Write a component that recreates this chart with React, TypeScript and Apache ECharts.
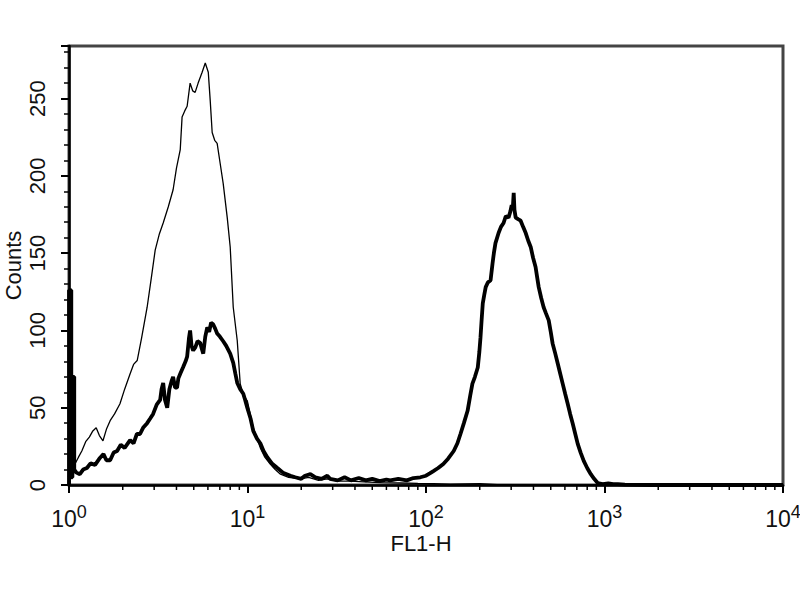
import React, { useEffect, useRef } from "react";
import * as echarts from "echarts";

// Control (thin) histogram: FL1-H value, counts
const thinX = [1, 1.04, 1.08, 1.13, 1.18, 1.24, 1.3, 1.36, 1.42, 1.48, 1.55, 1.62, 1.7, 1.8, 1.93, 2.05, 2.2, 2.3, 2.41, 2.55, 2.74, 2.9, 3.04, 3.2, 3.37, 3.6, 3.83, 4.0, 4.2, 4.3, 4.45, 4.59, 4.77, 4.93, 5.09, 5.29, 5.57, 5.8, 6.03, 6.18, 6.34, 6.55, 6.76, 7.03, 7.31, 7.7, 8.0, 8.32, 8.76, 9.1, 9.5, 9.97, 10.77, 11.8, 12.5, 13.4, 14.3, 15.3, 17, 19.8, 22, 25, 28, 32, 37.7, 45, 55, 71.9, 90, 110, 137, 200, 250, 400, 10000];
const thinY = [9, 12, 13.6, 18, 22, 28, 31, 35, 37, 32, 28.6, 36, 41.6, 46, 52.6, 62, 72, 78, 80.5, 95, 115, 135, 152, 162, 169.5, 180, 191, 205, 217, 238, 242, 245, 260, 255, 254, 260, 267, 273, 267, 249, 228, 223, 221, 208, 195, 173, 154, 115, 93.5, 65.6, 58, 54.5, 37, 24, 18, 13.6, 10, 7, 5, 4, 5, 3, 4, 2.5, 2.5, 2, 1.5, 1.3, 1, 0.8, 0.5, 0.8, 0.3, 0, 0];

// Stained (thick) histogram
const thickX = [1, 1, 1.03, 1.03, 1.045, 1.045, 1.07, 1.07, 1.1, 1.15, 1.2, 1.26, 1.32, 1.4, 1.49, 1.56, 1.62, 1.7, 1.78, 1.86, 1.95, 2.05, 2.2, 2.3, 2.4, 2.5, 2.6, 2.74, 2.85, 2.96, 3.1, 3.24, 3.3, 3.37, 3.45, 3.55, 3.65, 3.75, 3.83, 3.93, 4.03, 4.1, 4.2, 4.35, 4.5, 4.59, 4.7, 4.77, 4.86, 4.96, 5.1, 5.25, 5.43, 5.55, 5.65, 5.8, 5.95, 6.1, 6.25, 6.42, 6.6, 6.76, 7.0, 7.31, 7.6, 8.0, 8.32, 8.55, 8.76, 9.1, 9.47, 9.7, 9.97, 10.4, 10.77, 11.3, 11.8, 12.3, 12.9, 13.7, 14.7, 15.8, 17.4, 18.5, 20, 21, 22.5, 24, 26, 28, 29, 32, 35, 38, 42, 46, 50, 55, 60, 63, 70, 78, 85, 93, 100, 105, 110, 117, 125, 133, 143, 150, 156, 163, 171, 177, 182, 188, 195, 199, 202, 205, 208, 212, 216, 222, 230, 236, 240, 245, 255, 263, 272, 280, 290, 297, 302, 306, 310, 313, 318, 328, 339, 350, 362, 374, 386, 398, 411, 420, 428, 442, 456, 470, 487, 500, 512, 530, 547, 565, 583, 602, 622, 642, 664, 686, 708, 735, 765, 800, 838, 875, 916, 977, 1050, 1120, 1187, 1300, 1820, 10000];
const thickY = [0, 126, 126, 5, 5, 70, 70, 10, 8, 7, 10, 11, 14, 13, 17.5, 20, 16, 16, 21, 22, 26, 24, 29, 27, 33, 33, 37, 40, 43, 46, 52, 55, 62, 66, 55, 50, 62, 67, 70, 63, 63, 69, 72, 76, 80, 83, 95, 100, 90, 87, 89, 93, 92, 88, 85, 96, 102, 99, 105, 104, 101, 98, 96, 93, 90, 85, 79, 72, 66, 62, 59, 55, 50, 43, 35, 30, 27, 22, 18, 14, 11, 8, 6, 5, 4, 6, 7, 5, 4, 6, 4, 3, 5, 3, 4.5, 3, 4, 2.5, 3.5, 3, 4, 3, 4.5, 5, 6, 7.5, 9, 11, 13.6, 17, 22, 27, 33, 40, 48, 58, 65.6, 70, 76, 86, 95.5, 107, 117.5, 123, 128, 131, 132.5, 143.5, 150, 156.5, 163, 167, 169.5, 174, 173, 177, 181, 178, 189, 178, 173, 172, 171, 167, 163, 158, 154, 147, 141, 134, 128, 121, 115, 111, 106.5, 99, 91.6, 85, 78.6, 72, 65.6, 59, 52.6, 46, 39.6, 33, 26.6, 21, 15.6, 11, 7, 4, 1.3, 0.6, 1, 0.6, 0.6, 0.3, 0, 0];

// Minor tick positions on the log x axis
const minorTickValues = [2, 3, 4, 5, 6, 7, 8, 9, 20, 30, 40, 50, 60, 70, 80, 90, 200, 300, 400, 500, 600, 700, 800, 900, 2000, 3000, 4000, 5000, 6000, 7000, 8000, 9000];

const xName = "FL1-H";
const yName = "Counts";

const zip = (xs: number[], ys: number[]) => xs.map((x, i) => [x, ys[i]]);

export default function App() {
  const ref = useRef<HTMLDivElement>(null);
  useEffect(() => {
    if (!ref.current) return;
    const chart = echarts.init(ref.current, null, { renderer: "svg" });
    const font = "Liberation Sans";
    chart.setOption({
      animation: false,
      backgroundColor: "#fff",
      grid: {
        left: 69,
        right: 17,
        top: 46,
        bottom: 115,
        show: true,
        borderColor: "#444",
        borderWidth: 3,
        backgroundColor: "transparent",
        containLabel: false,
        outerBoundsMode: "none",
      },
      xAxis: {
        type: "log",
        logBase: 10,
        min: 1,
        max: 10000,
        name: xName,
        nameLocation: "middle",
        nameGap: 47,
        nameMoveOverlap: false,
        nameTextStyle: { fontFamily: font, fontSize: 22, color: "#111", padding: [0, 10, 0, 0] },
        axisLine: { show: true, lineStyle: { color: "#000", width: 2.5 } },
        axisTick: { show: true, length: 8, lineStyle: { color: "#000", width: 2 } },
        splitLine: { show: false },
        axisLabel: {
          margin: 18,
          fontFamily: font,
          color: "#111",
          formatter: (v: number) => `{b|10}{s|${Math.round(Math.log10(v))}}`,
          rich: {
            b: { fontFamily: font, fontSize: 23, color: "#111" },
            s: { fontFamily: font, fontSize: 18, color: "#111", padding: [0, 0, 13, 0] },
          },
        },
      },
      yAxis: {
        type: "value",
        min: 0,
        max: 284,
        interval: 50,
        name: yName,
        nameLocation: "middle",
        nameRotate: 90,
        nameGap: 45,
        nameMoveOverlap: false,
        nameTextStyle: { fontFamily: font, fontSize: 22, color: "#111" },
        axisLine: { show: true, lineStyle: { color: "#000", width: 2.5 } },
        axisTick: { show: true, length: 8, lineStyle: { color: "#000", width: 2 } },
        minorTick: { show: true, splitNumber: 5, length: 5, lineStyle: { color: "#000", width: 1.5 } },
        splitLine: { show: false },
        minorSplitLine: { show: false },
        axisLabel: {
          rotate: 90,
          margin: 21,
          fontFamily: font,
          fontSize: 22,
          color: "#111",
          showMaxLabel: false,
        },
      },
      series: [
        {
          type: "custom",
          silent: true,
          clip: false,
          encode: { x: 0, y: 1 },
          data: minorTickValues.map((v) => [v, 0]),
          renderItem: (params: any, api: any) => {
            const p = api.coord([api.value(0), 0]);
            return {
              type: "line",
              shape: { x1: p[0], y1: p[1], x2: p[0], y2: p[1] + 5 },
              style: { stroke: "#000", lineWidth: 1.5 },
            };
          },
        },
        {
          type: "line",
          data: zip(thinX, thinY),
          showSymbol: false,
          symbol: "none",
          lineStyle: { color: "#000", width: 1.3 },
          z: 3,
        },
        {
          type: "line",
          data: zip(thickX, thickY),
          showSymbol: false,
          symbol: "none",
          lineStyle: { color: "#000", width: 3.8 },
          z: 4,
        },
      ],
    });
    return () => chart.dispose();
  }, []);
  return (
    <div
      ref={ref}
      style={{ position: "fixed", left: 0, top: 0, width: 800, height: 600, background: "#fff" }}
    />
  );
}
